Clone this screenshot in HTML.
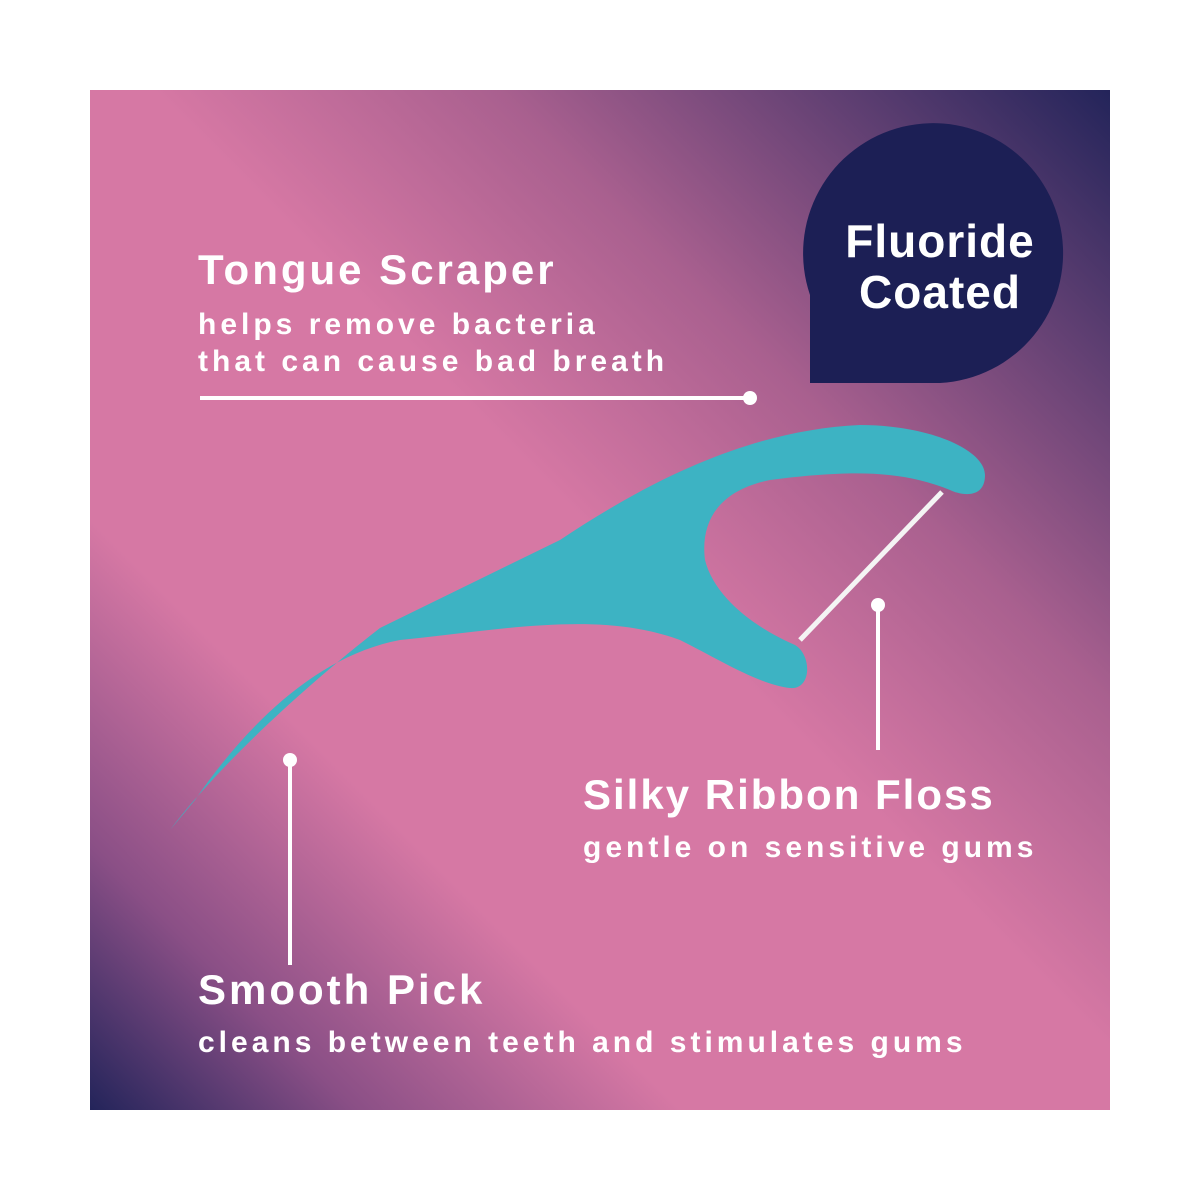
<!DOCTYPE html>
<html><head><meta charset="utf-8"><style>
body{margin:0;width:1200px;height:1200px;background:#fff;position:relative;overflow:hidden;font-family:"Liberation Sans",sans-serif;}
#p{position:absolute;left:90px;top:90px;width:1020px;height:1020px;background:linear-gradient(to top right,#23245a 0%,#8a4f86 13%,#d678a4 29%,#d678a4 53%,#a9608f 70%,#23245a 100%);}
.t{position:absolute;color:#fff;font-weight:bold;white-space:nowrap;}
.h{font-size:42px;letter-spacing:3px}
.s{font-size:30px;letter-spacing:4px;line-height:37px}
</style></head><body>
<div id="p"></div>
<svg width="1200" height="1200" style="position:absolute;left:0;top:0">
<path d="M810,383 L810,295 A130,130 0 1 1 940,383 Z" fill="#1c1f55"/>
<path d="M170,830 C215,770 300,690 380,628 L560,540 C650,480 750,430 860,425 C930,425 985,450 985,475 C985,500 960,495 950,490 C900,470 850,470 770,480 C720,490 700,520 705,560 C715,600 760,630 795,645 C812,655 812,690 790,688 C760,685 720,660 680,640 C600,610 500,630 400,640 C320,655 250,720 195,800 Z" fill="#3db3c3"/>
<line x1="942" y1="492" x2="800" y2="640" stroke="#f4f4f4" stroke-width="5"/>
<line x1="200" y1="398" x2="750" y2="398" stroke="#fff" stroke-width="4"/>
<circle cx="750" cy="398" r="7" fill="#fff"/>
<line x1="878" y1="605" x2="878" y2="750" stroke="#fff" stroke-width="4"/>
<circle cx="878" cy="605" r="7" fill="#fff"/>
<line x1="290" y1="760" x2="290" y2="965" stroke="#fff" stroke-width="4"/>
<circle cx="290" cy="760" r="7" fill="#fff"/>
</svg>
<div class="t" style="left:810px;top:216px;width:260px;text-align:center;font-size:46px;letter-spacing:1px;line-height:51px">Fluoride<br>Coated</div>
<div class="t h" style="left:198px;top:246px">Tongue Scraper</div>
<div class="t s" style="left:198px;top:306px">helps remove bacteria<br>that can cause bad breath</div>
<div class="t h" style="left:583px;top:771px;letter-spacing:2px">Silky Ribbon Floss</div>
<div class="t s" style="left:583px;top:829px">gentle on sensitive gums</div>
<div class="t h" style="left:198px;top:966px">Smooth Pick</div>
<div class="t s" style="left:198px;top:1024px">cleans between teeth and stimulates gums</div>
</body></html>
